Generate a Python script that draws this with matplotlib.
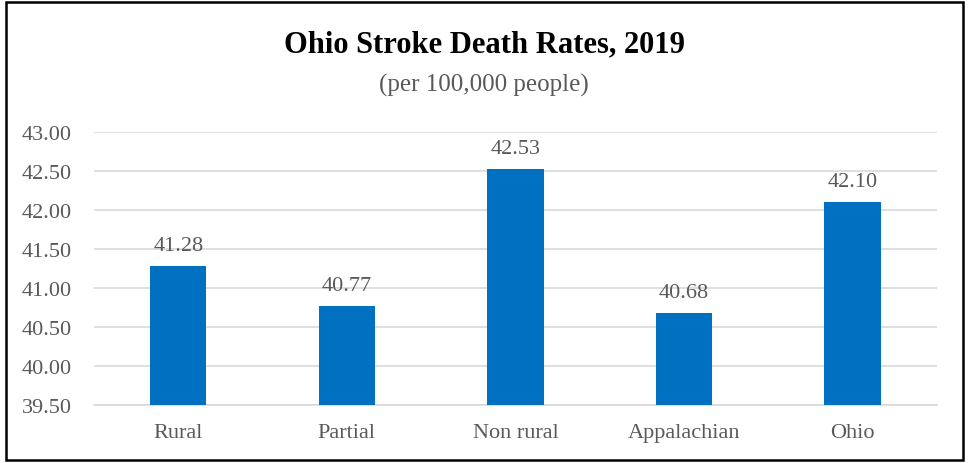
import matplotlib.pyplot as plt
from matplotlib.patches import Rectangle

categories = ['Rural', 'Partial', 'Non rural', 'Appalachian', 'Ohio']
rates = [41.28, 40.77, 42.53, 40.68, 42.10]
yticks = [39.5, 40.0, 40.5, 41.0, 41.5, 42.0, 42.5, 43.0]

plt.rcParams['font.family'] = ['Liberation Serif', 'DejaVu Serif']

fig = plt.figure(figsize=(9.68, 4.64), dpi=100)
ax = fig.add_axes([0.097, 0.125, 0.871, 0.588])

gray = '#595959'
x = range(len(categories))
ax.bar(x, rates, width=0.335, color='#0070C0', zorder=3)
for xi, v in zip(x, rates):
    ax.text(xi, v + 0.14, f'{v:.2f}', ha='center', va='bottom',
            fontsize=16, color=gray)

ax.set_ylim(39.5, 43.0)
ax.set_xlim(-0.5, len(categories) - 0.5)
ax.set_yticks(yticks)
ax.set_yticklabels([f'{t:.2f}' for t in yticks], fontsize=16, color=gray)
ax.set_xticks(list(x))
ax.set_xticklabels(categories, fontsize=16, color=gray)
ax.tick_params(axis='both', length=0)
ax.tick_params(axis='y', pad=16)
ax.tick_params(axis='x', pad=13)
ax.grid(axis='y', color='#d9d9d9', linewidth=1.2, zorder=0)
for s in ax.spines.values():
    s.set_visible(False)
ax.spines['bottom'].set_visible(True)
ax.spines['bottom'].set_color('#d9d9d9')
ax.spines['bottom'].set_linewidth(1.2)

fig.text(0.5, 0.903, 'Ohio Stroke Death Rates, 2019', ha='center', va='center',
         fontsize=22, fontweight='bold', color='black')
fig.text(0.5, 0.815, '(per 100,000 people)', ha='center', va='center',
         fontsize=18, color=gray)

fig.patches.append(Rectangle((0.006, 0.006), 0.989, 0.987, transform=fig.transFigure,
                             fill=False, edgecolor='black', linewidth=1.8))

fig.savefig('out.png', dpi=100)
